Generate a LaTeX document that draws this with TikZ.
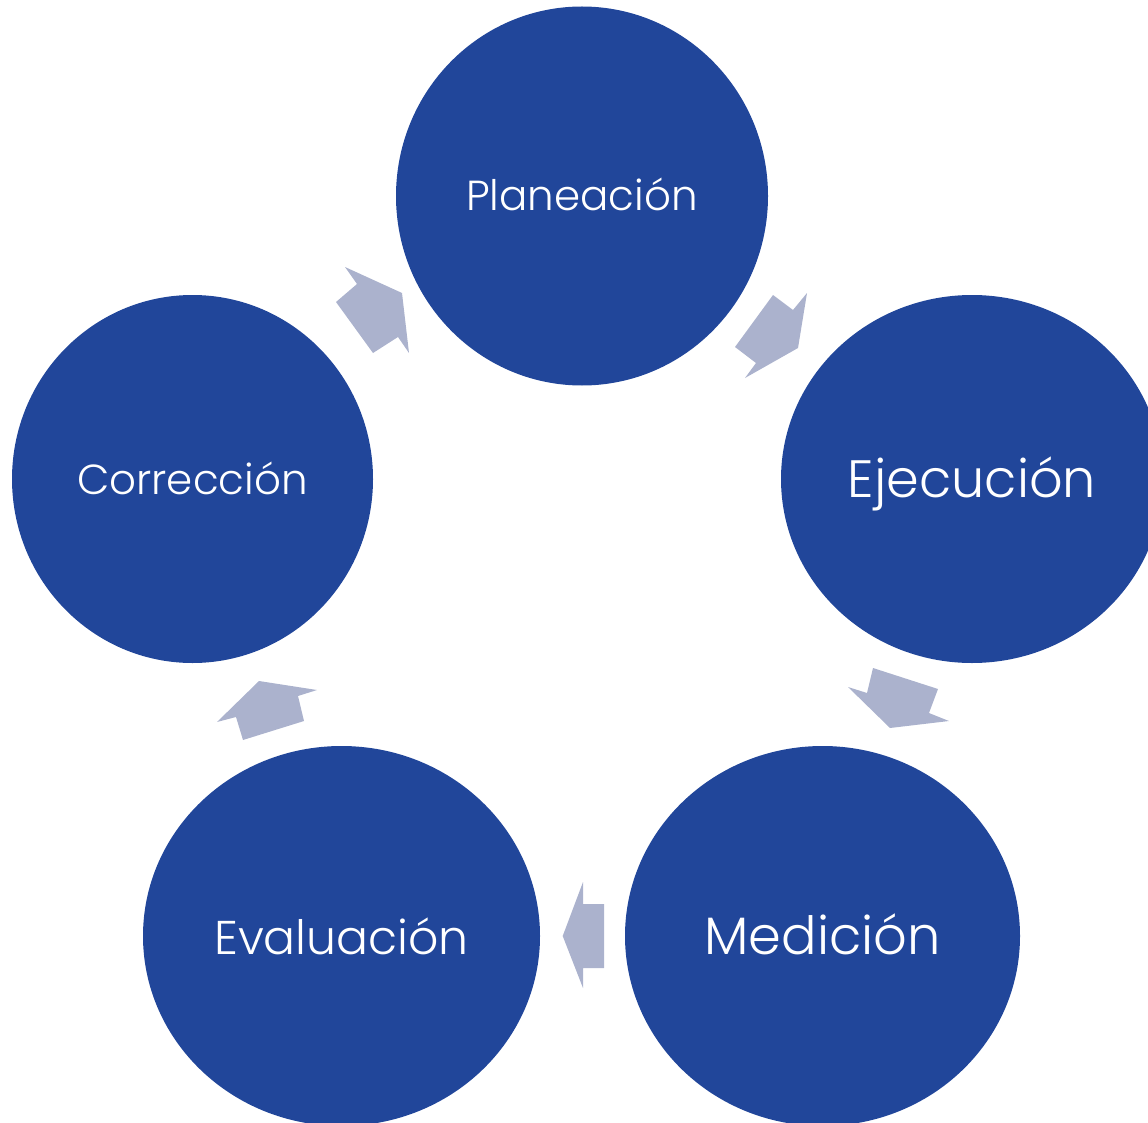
\documentclass[tikz,border=0pt]{standalone}
\usepackage{fontspec}
\setmainfont{Poppins Light}
\usetikzlibrary{shapes.geometric}
\definecolor{circblue}{RGB}{33,70,154}
\definecolor{arrowgray}{RGB}{171,178,205}
\tikzset{
  stage/.style={ellipse, fill=circblue, draw=none, inner sep=0pt},
  lbl/.style={anchor=base, inner sep=0pt, text=white},
  blockarrow/.style={fill=arrowgray, draw=none}
}
\begin{document}
\begin{tikzpicture}[x=0.75pt, y=-0.75pt]
\useasboundingbox (0,0) rectangle (1148,1123);
\clip (0,0) rectangle (1148,1123);
\node[stage, minimum width=372*0.75pt, minimum height=379*0.75pt] (plan) at (582,196) {};
\node[stage, minimum width=382*0.75pt, minimum height=368*0.75pt] (ejec) at (972,479) {};
\node[stage, minimum width=361*0.75pt, minimum height=368*0.75pt] (corr) at (192.5,479) {};
\node[stage, minimum width=397*0.75pt, minimum height=380*0.75pt] (eval) at (341.5,936) {};
\node[stage, minimum width=395*0.75pt, minimum height=380*0.75pt] (medi) at (822.5,936) {};
% labels
\node[lbl, font=\fontsize{31.5}{31.5}\selectfont] (planT) at ([yshift=-15*0.75pt]plan.center) {Planeación};
\node[lbl, font=\fontsize{39.4}{39.4}\selectfont] (ejecT) at ([yshift=-18.5*0.75pt]ejec.center) {Ejecución};
\node[lbl, font=\fontsize{31.5}{31.5}\selectfont] (corrT) at ([yshift=-15*0.75pt]corr.center) {Corrección};
\node[lbl, font=\fontsize{35.5}{35.5}\selectfont] (evalT) at ([yshift=-18*0.75pt]eval.center) {Evaluación};
\node[lbl, font=\fontsize{39.5}{39.5}\selectfont] (mediT) at ([yshift=-18*0.75pt]medi.center) {Medición};
% block arrows
\fill[blockarrow] (345,267) -- (402,293) -- (409,353) -- (398,337) -- (373,353) -- (336,302) -- (357,284) -- cycle;
\fill[blockarrow] (807,293) -- (798,348) -- (745,378) -- (756,363) -- (735,347) -- (773,295) -- (793,310) -- cycle;
\fill[blockarrow] (848,687) -- (890,728) -- (949,721) -- (929,713) -- (938,689) -- (873,668) -- (867,693) -- cycle;
\fill[blockarrow] (583,882) -- (562.7,936) -- (583,988) -- (583,968) -- (604,968) -- (604,904) -- (583,904) -- cycle;
\fill[blockarrow] (217,722) -- (259,681) -- (317,690) -- (298,696) -- (304,721) -- (243,740) -- (236,717) -- cycle;
\end{tikzpicture}
\end{document}
